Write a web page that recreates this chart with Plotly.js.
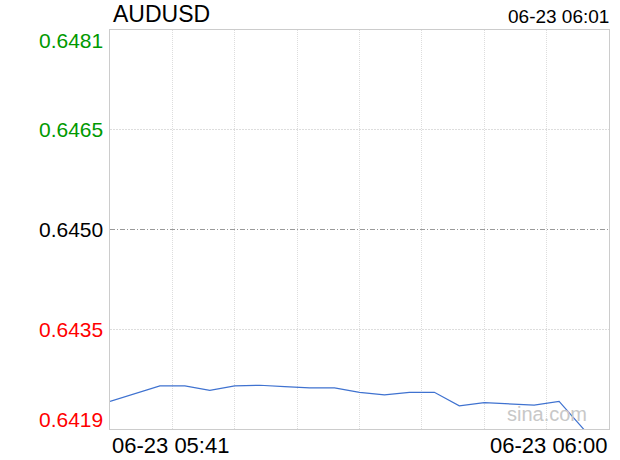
<!DOCTYPE html>
<html>
<head>
<meta charset="utf-8">
<script src="https://cdn.plot.ly/plotly-3.0.1.min.js"></script>
<style>html,body{margin:0;padding:0;background:#fff;}#chart{width:620px;height:460px;}</style>
</head>
<body>
<div id="chart"></div>
<script>
const symbol = "AUDUSD";
const stampText = "06-23 06:01";
const times = ["05:41","05:42","05:43","05:44","05:45","05:46","05:47","05:48","05:49","05:50",
               "05:51","05:52","05:53","05:54","05:55","05:56","05:57","05:58","05:59","06:00"];
const prices = [0.64233,0.64245,0.64257,0.64257,0.64250,0.64257,0.64258,0.64256,0.64254,0.64254,
                0.64247,0.64243,0.64247,0.64247,0.64226,0.64231,0.64229,0.64227,0.64233,0.64189];
const prevClose = 0.6450;
const yLevels = [0.6481, 0.64655, 0.6450, 0.64345, 0.6419];
const yLabels = ["0.6481","0.6465","0.6450","0.6435","0.6419"];
const xStartLabel = "06-23 05:41";
const xEndLabel = "06-23 06:00";
const xEnd = "06:01";
const day = "2024-06-23 ";

const xs = times.map(t => day + t);
const FONT = "Liberation Sans, Arial, sans-serif";

function levelColor(v){ return v > prevClose + 1e-9 ? "#009900" : (v < prevClose - 1e-9 ? "#ff0000" : "#000000"); }

const annotations = yLevels.map((v,i) => ({
  xref: "paper", yref: "y", x: 0, y: v, xanchor: "right", yanchor: "middle",
  xshift: -5, yshift: i === 0 ? -10 : (i === yLevels.length - 1 ? 10 : 0),
  text: yLabels[i], showarrow: false, font: {family: FONT, size: 21, color: levelColor(v)}
}));
annotations.push(
  {xref:"paper", yref:"paper", x:0, y:1, xanchor:"left", yanchor:"bottom", yshift:1, xshift:1,
   text: symbol, showarrow:false, font:{family:FONT, size:23, color:"#000"}},
  {xref:"paper", yref:"paper", x:1, y:1, xanchor:"right", yanchor:"bottom", yshift:1, xshift:2,
   text: stampText, showarrow:false, font:{family:FONT, size:19, color:"#000"}},
  {xref:"paper", yref:"paper", x:0, y:0, xanchor:"left", yanchor:"top", yshift:-2,
   text: xStartLabel, showarrow:false, font:{family:FONT, size:22, color:"#000"}},
  {xref:"paper", yref:"paper", x:1, y:0, xanchor:"right", yanchor:"top", yshift:-2,
   text: xEndLabel, showarrow:false, font:{family:FONT, size:22, color:"#000"}},
  {xref:"paper", yref:"paper", x:0.95, y:0.04, xanchor:"right", yanchor:"middle", xshift:5, yshift:-1,
   text: "sina.com", showarrow:false, font:{family:FONT, size:20, color:"#c8c8c8"}}
);

const trace = {
  x: xs, y: prices, type: "scatter", mode: "lines",
  line: {color: "#3f72d0", width: 1.2}, hoverinfo: "skip", cliponaxis: true
};

const layout = {
  width: 620, height: 460,
  margin: {l: 110, r: 11, t: 30, b: 31},
  paper_bgcolor: "#fff", plot_bgcolor: "#fff",
  showlegend: false,
  xaxis: {
    type: "date", range: [xs[0], day + xEnd],
    tick0: xs[0], dtick: 150000, showticklabels: false, ticks: "",
    showgrid: true, gridcolor: "#dddddd", griddash: "1px,1px", gridwidth: 1,
    showline: true, linecolor: "#cccccc", linewidth: 1, mirror: true, zeroline: false
  },
  yaxis: {
    range: [yLevels[yLevels.length-1], yLevels[0]],
    tickmode: "array", tickvals: [yLevels[1], yLevels[3]], showticklabels: false, ticks: "",
    showgrid: true, gridcolor: "#dddddd", griddash: "2px,1px", gridwidth: 1,
    showline: true, linecolor: "#cccccc", linewidth: 1, mirror: true, zeroline: false
  },
  shapes: [{
    type: "line", xref: "paper", x0: 0, x1: 1, yref: "y", y0: prevClose, y1: prevClose,
    line: {color: "#999999", width: 1, dash: "5px,2px,1px,2px"}, layer: "below"
  }],
  annotations: annotations
};

Plotly.newPlot("chart", [trace], layout, {displayModeBar: false, staticPlot: true});
</script>
</body>
</html>
